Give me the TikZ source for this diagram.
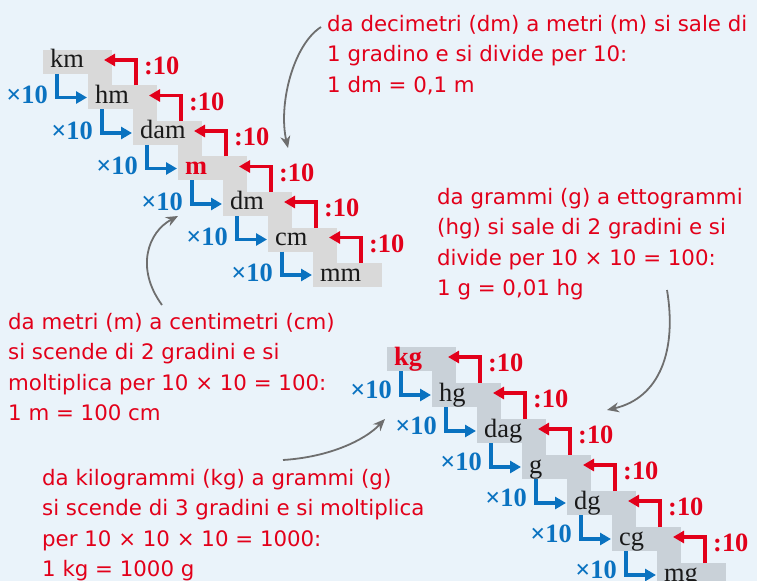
\documentclass[tikz,border=0pt]{standalone}
\usepackage{fontspec}
\setmainfont{Liberation Serif}
\setsansfont{DejaVu Sans}
\usetikzlibrary{arrows.meta,calc}

\definecolor{bgblue}{HTML}{EAF3FA}
\definecolor{stepgrey}{HTML}{D9D9D9}
\definecolor{stepslate}{HTML}{C9D1D8}
\definecolor{unitred}{HTML}{E2001A}
\definecolor{unitblue}{HTML}{0A72C0}
\definecolor{pointer}{HTML}{6E6E6E}

\tikzset{
  stepbox/.style={minimum width=69bp,minimum height=24bp,inner sep=0pt,outer sep=0pt,
    anchor=north west,fill=#1,draw=none},
  unit/.style={anchor=base west,inner sep=0pt,font=\fontsize{26.5}{26.5}\selectfont,text=black!90},
  mulbl/.style={anchor=east,inner sep=0pt,font=\fontsize{26.5}{26.5}\selectfont\bfseries,text=unitblue},
  divlbl/.style={anchor=west,inner sep=0pt,font=\fontsize{26.5}{26.5}\selectfont\bfseries,text=unitred},
  godown/.style={draw=unitblue,line width=3.3bp,-{Triangle[length=11bp,width=12bp]}},
  goup/.style={draw=unitred,line width=3.3bp,-{Triangle[length=11bp,width=12bp]}},
  note/.style={anchor=north west,inner sep=0pt,align=left,text=unitred,
    font=\sffamily\fontsize{21.4}{30.5}\selectfont},
  hint/.style={draw=pointer,line width=1.8bp,-{Stealth[length=12bp,width=10bp]}},
}

\begin{document}
\begin{tikzpicture}[x=1bp,y=-1bp]
\clip (0,0) rectangle (757,581);
\fill[bgblue] (0,0) rectangle (757,581);

% ---- length staircase ----
\foreach \i in {0,...,6} {
  \node[stepbox=stepgrey] (t\i) at ({43+45*\i},{50+35.5*\i}) {};
}
\foreach \i in {0,...,5} {
  \pgfmathtruncatemacro\j{\i+1}
  \fill[stepgrey] (t\j.north west) rectangle (t\i.south east);
}
\foreach \u [count=\i from 0] in {km,hm,dam,{\bfseries\color{unitred}m},dm,cm,mm} {
  \node[unit] (tu\i) at ([xshift=7bp,yshift=-18bp]t\i.north west) {\u};
}
\foreach \i in {0,...,5} {
  \pgfmathtruncatemacro\j{\i+1}
  \draw[godown] ([xshift=14bp]t\i.south west) |- ([xshift=-1bp]t\j.west);
  \draw[goup] ([xshift=48bp]t\j.north west) |- ([xshift=-8bp,yshift=2bp]t\i.east);
  \node[mulbl] (tx\i) at ([xshift=5bp,yshift=-21bp]t\i.south west) {×10};
  \node[divlbl] (td\i) at ([xshift=32bp,yshift=-4bp]t\i.east) {:10};
}

% ---- mass staircase ----
\foreach \i in {0,...,6} {
  \node[stepbox=stepslate] (b\i) at ({387+45*\i},{347+36*\i}) {};
}
\foreach \i in {0,...,5} {
  \pgfmathtruncatemacro\j{\i+1}
  \fill[stepslate] (b\j.north west) rectangle (b\i.south east);
}
\foreach \u [count=\i from 0] in {{\bfseries\color{unitred}kg},hg,dag,g,dg,cg,mg} {
  \node[unit] (bu\i) at ([xshift=7bp,yshift=-18bp]b\i.north west) {\u};
}
\foreach \i in {0,...,5} {
  \pgfmathtruncatemacro\j{\i+1}
  \draw[godown] ([xshift=14bp]b\i.south west) |- ([xshift=-1bp]b\j.west);
  \draw[goup] ([xshift=48bp]b\j.north west) |- ([xshift=-8bp,yshift=2bp]b\i.east);
  \node[mulbl] (bx\i) at ([xshift=5bp,yshift=-19bp]b\i.south west) {×10};
  \node[divlbl] (bd\i) at ([xshift=32bp,yshift=-4bp]b\i.east) {:10};
}

% ---- explanations ----
\node[note] (n1) at (327,15) {da decimetri (dm) a metri (m) si sale di\\1 gradino e si divide per 10:\\1 dm = 0,1 m};
\node[note] (n2) at (437,188) {da grammi (g) a ettogrammi\\(hg) si sale di 2 gradini e si\\divide per 10 × 10 = 100:\\1 g = 0,01 hg};
\node[note] (n3) at (8,313) {da metri (m) a centimetri (cm)\\si scende di 2 gradini e si\\moltiplica per 10 × 10 = 100:\\1 m = 100 cm};
\node[note] (n4) at (42,469) {da kilogrammi (kg) a grammi (g)\\si scende di 3 gradini e si moltiplica\\per 10 × 10 × 10 = 1000:\\1 kg = 1000 g};

% ---- pointers ----
\coordinate (p1) at (288,148);
\coordinate (p2) at (178,216);
\coordinate (p3) at (385,419);
\coordinate (p4) at (607,410);
\draw[hint] ([xshift=-6bp,yshift=-12bp]n1.north west) .. controls (293,45) and (278,105) .. (p1);
\draw[hint] ([xshift=154bp,yshift=8bp]n3.north west) .. controls (135,268) and (148,232) .. (p2);
\draw[hint] ([xshift=241bp,yshift=9bp]n4.north west) .. controls (330,457) and (365,440) .. (p3);
\draw[hint] ([xshift=230bp,yshift=-102bp]n2.north west) .. controls (677,350) and (660,398) .. (p4);
\end{tikzpicture}
\end{document}
